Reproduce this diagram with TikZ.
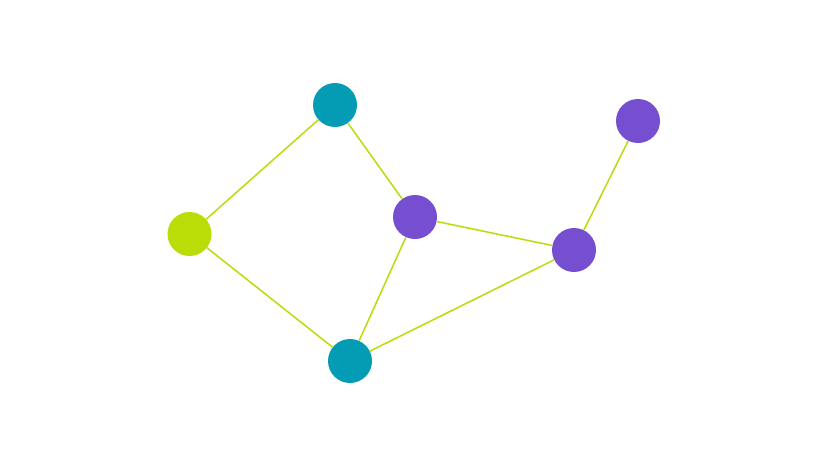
\documentclass[tikz,border=0pt]{standalone}
\definecolor{lime}{HTML}{BADC07}
\definecolor{tealc}{HTML}{049BB4}
\definecolor{purp}{HTML}{754FD0}
\begin{document}
\begin{tikzpicture}[x=1pt,y=-1pt,
  vert/.style={circle,inner sep=0pt,minimum size=44pt,draw=none},
  edge/.style={draw=lime,line width=1.5pt}]
\useasboundingbox (0,0) rectangle (828,466);
\fill[white] (0,0) rectangle (828,466);
\node[vert,fill=lime] (a) at (189.5,234) {};
\node[vert,fill=tealc] (b) at (335,105) {};
\node[vert,fill=purp] (c) at (415,217) {};
\node[vert,fill=tealc] (d) at (350,361) {};
\node[vert,fill=purp] (e) at (574,250) {};
\node[vert,fill=purp] (f) at (638,121) {};
\begin{scope}[on background layer/.try]
\end{scope}
\draw[edge] (a) -- (b);
\draw[edge] (a) -- (d);
\draw[edge] (b) -- (c);
\draw[edge] (c) -- (d);
\draw[edge] (c) -- (e);
\draw[edge] (d) -- (e);
\draw[edge] (e) -- (f);
\end{tikzpicture}
\end{document}
